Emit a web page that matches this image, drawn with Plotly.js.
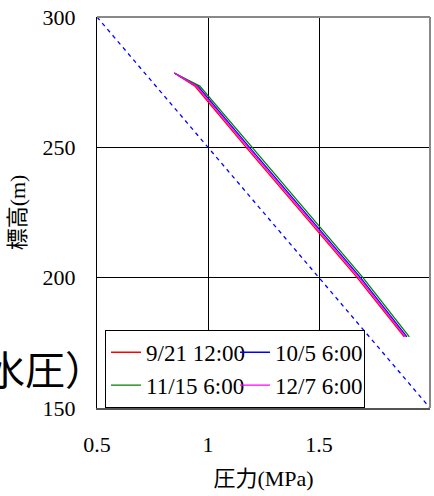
<!DOCTYPE html>
<html>
<head>
<meta charset="utf-8">
<script src="https://cdn.plot.ly/plotly-3.0.1.min.js"></script>
<style>
html,body{margin:0;padding:0;background:#fff;}
#chart{width:434px;height:496px;}
</style>
</head>
<body>
<div id="chart"></div>
<script>
// Elevation (m) of each measured point
const elevation = [278.5, 273.5, 250, 200, 177.3];
// Pressure (MPa) per date
const seriesNames = ['9/21 12:00', '10/5 6:00', '11/15 6:00', '12/7 6:00'];
const pressure_0921 = [0.848, 0.941, 1.172, 1.672, 1.884];
const pressure_1005 = [0.848, 0.954, 1.187, 1.687, 1.896];
const pressure_1115 = [0.848, 0.963, 1.199, 1.698, 1.907];
const pressure_1207 = [0.848, 0.948, 1.180, 1.680, 1.890];
const seriesColors = ['#ff0000', '#0000ff', '#008000', '#ff00ff'];
// Hydrostatic reference line
const refPressure = [0.5, 2.0];
const refElevation = [300, 150];
// Axis ticks
const xTicks = [0.5, 1, 1.5, 2];
const xTickLabels = ['0.5', '1', '1.5', '2'];
const yTicks = [150, 200, 250, 300];

const pressures = [pressure_0921, pressure_1005, pressure_1115, pressure_1207];
const serif = "Liberation Serif, serif";
const serifCJK = "Liberation Serif, Noto Sans CJK JP, serif";

const traces = [{
  x: refPressure, y: refElevation, mode: 'lines', showlegend: false,
  line: {color: '#0000ff', width: 1.3, dash: '4px,4px'}
}];
pressures.forEach((p, i) => {
  traces.push({
    x: p, y: elevation, mode: 'lines', name: seriesNames[i],
    line: {color: seriesColors[i], width: 1.3}
  });
});

const layout = {
  width: 434, height: 496,
  margin: {l: 97, r: 4, t: 16.5, b: 88},
  paper_bgcolor: '#fff', plot_bgcolor: '#fff',
  font: {family: serif, size: 22, color: '#000'},
  showlegend: true,
  legend: {
    orientation: 'h', x: 0.024, y: 0.2, xanchor: 'left', yanchor: 'top',
    bgcolor: '#fff', bordercolor: '#000', borderwidth: 1,
    font: {family: serif, size: 23, color: '#000'},
    entrywidth: 84, tracegroupgap: 0, itemwidth: 30
  },
  xaxis: {
    range: [0.5, 2], tickvals: xTicks, ticktext: xTickLabels,
    showgrid: true, gridcolor: '#000', gridwidth: 1, zeroline: false,
    showline: true, linecolor: '#555', linewidth: 2,
    ticks: 'outside', ticklen: 16, tickcolor: 'rgba(0,0,0,0)',
    tickfont: {family: serif, size: 22},
    title: {text: '圧力(MPa)', font: {family: serifCJK, size: 22}, standoff: 14}
  },
  yaxis: {
    range: [150, 300], tickvals: yTicks,
    showgrid: true, gridcolor: '#000', gridwidth: 1, zeroline: false,
    showline: true, linecolor: '#000', linewidth: 1,
    ticks: 'outside', ticklen: 16, tickcolor: 'rgba(0,0,0,0)',
    tickfont: {family: serif, size: 22},
    title: {text: '標高(m)', font: {family: serifCJK, size: 22}, standoff: 10}
  },
  shapes: [
    {type: 'line', xref: 'paper', yref: 'paper', x0: 0, x1: 1, y0: 1, y1: 1,
     line: {color: '#888', width: 2}},
    {type: 'line', xref: 'paper', yref: 'paper', x0: 1, x1: 1, y0: 0, y1: 1,
     line: {color: '#888', width: 2}}
  ],
  annotations: [
    {xref: 'paper', yref: 'paper', x: 0.03, y: 0.102, xanchor: 'right', yanchor: 'middle',
     text: '水圧）', showarrow: false,
     font: {family: 'Noto Sans CJK JP', size: 40, color: '#000'}}
  ]
};

Plotly.newPlot('chart', traces, layout, {staticPlot: true, displayModeBar: false});
</script>
</body>
</html>
